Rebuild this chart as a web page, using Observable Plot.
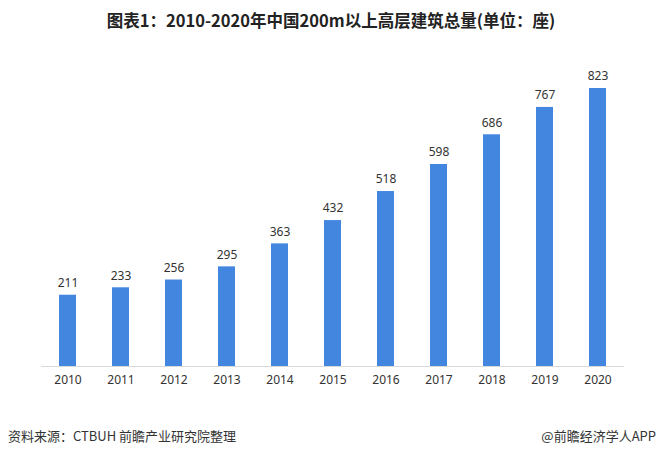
<!DOCTYPE html>
<html><head><meta charset="utf-8">
<script src="https://cdn.jsdelivr.net/npm/d3@7"></script>
<script src="https://cdn.jsdelivr.net/npm/@observablehq/plot@0.6"></script>
<style>
body{margin:0;background:#fff;}
#wrap{position:relative;width:662px;height:456px;overflow:hidden;font-family:"Noto Sans CJK SC","Noto Sans",sans-serif;}
#title{position:absolute;left:0;top:0;width:662px;height:40px;line-height:40px;text-align:center;font-size:16.5px;font-weight:bold;color:#222;}
#chart{position:absolute;left:0;top:40px;}
#src{position:absolute;left:8px;top:426px;font-size:13px;color:#333;}
#app{position:absolute;right:6px;top:426px;font-size:13px;color:#333;}
</style></head>
<body>
<div id="wrap">
<div id="title">图表1：2010-2020年中国200m以上高层建筑总量(单位：座)</div>
<div id="chart"></div>
<div id="src">资料来源：CTBUH 前瞻产业研究院整理</div>
<div id="app">@前瞻经济学人APP</div>
</div>
<script>
const years = ["2010","2011","2012","2013","2014","2015","2016","2017","2018","2019","2020"];
const counts = [211,233,256,295,363,432,518,598,686,767,823];
const data = years.map((y,i)=>({year:y, value:counts[i]}));
const chart = Plot.plot({
  width:662, height:370,
  marginTop:22, marginBottom:44, marginLeft:41, marginRight:38,
  style:{fontFamily:'"Noto Sans","Noto Sans CJK SC",sans-serif', fontSize:"12px", color:"#333", background:"#fff"},
  x:{domain:years, paddingInner:0.68, paddingOuter:0.34, label:null, tickSize:0, tickPadding:9},
  y:{domain:[0,900], axis:null},
  marks:[
    Plot.barY(data,{x:"year", y:"value", fill:"#4286e0"}),
    Plot.ruleY([0],{stroke:"#d9d9d9", strokeWidth:1}),
    Plot.text(data,{x:"year", y:"value", text:d=>String(d.value), dy:-12, fill:"#333", fontSize:12})
  ]
});
document.getElementById("chart").appendChild(chart);
</script>
</body></html>
